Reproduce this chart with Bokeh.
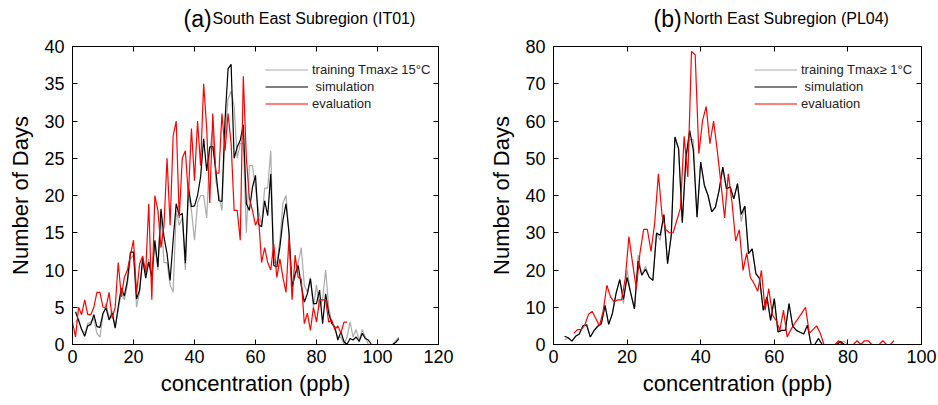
from bokeh.plotting import figure
from bokeh.models import Legend, LegendItem, LinearAxis, FixedTicker, Range1d
from bokeh.layouts import row, column
from bokeh.core.properties import value
from bokeh.embed import file_html
from bokeh.resources import INLINE

# ---------------- Panel (a): South East Subregion (IT01) ----------------
a_tag = "(a)"
a_title = "South East Subregion (IT01)"
a_xticks = [0, 20, 40, 60, 80, 100, 120]
a_yticks = [0, 5, 10, 15, 20, 25, 30, 35, 40]

a_sim_x = list(range(1, 108))
a_sim = [4.4, 3.2, 2.0, 1.1, 2.5, 2.7, 4.0, 2.4, 2.3, 4.2,
         4.9, 3.3, 4.2, 2.2, 5.1, 7.6, 6.5, 8.6, 12.4, 12.4,
         6.1, 7.3, 11.6, 8.9, 11.1, 9.1, 14, 10.4, 18.2, 14.4,
         12.2, 8.6, 14, 18.9, 17.3, 17.6, 10.9, 21.1, 18.5, 18.6,
         20, 22.5, 27.6, 23.3, 26.5, 26.6, 23.3, 19.3, 19.2, 30,
         37, 37.6, 25, 26.5, 27.4, 29.5, 18.9, 18, 21.1, 22.7,
         16.1, 15.8, 19.3, 17.3, 22.9, 10.6, 10.4, 13.1, 16.7, 18.9,
         14.9, 7.7, 9.5, 10.6, 7.9, 5.7, 6.8, 8.8, 5.5, 5.5,
         7.3, 2.8, 6.8, 4.2, 2.8, 2.4, 0.6, 1.7, 0.4, 0,
         0.8, 0.6, 1, 0.4, 1.5, 0.8, 0.6, 0, 0, 0,
         0, 0, 0, 0, 0, 0.3, 0.8]

a_train_x = list(range(1, 108))
a_train = [3.0, 3.5, 2.0, 1.5, 2.8, 3.0, 3.5, 1.5, 1.0, 4.0,
           5.5, 3.5, 4.5, 2.5, 4.5, 7.0, 6.0, 8.0, 11.5, 12.0,
           5.0, 7.0, 11.0, 9.5, 11.5, 8.5, 13.5, 10.0, 17.5, 11.0,
           11.0, 8.0, 7.0, 18.0, 16.0, 17.0, 10.0, 20.0, 18.0, 14.0,
           19.0, 20.0, 20.0, 17.0, 26.0, 29.0, 22.0, 20.0, 18.0, 28.0,
           33.0, 34.0, 32.0, 25.0, 27.0, 27.0, 15.0, 24.0, 24.0, 21.0,
           18.0, 16.0, 21.0, 21.0, 26.0, 11.0, 11.0, 14.0, 19.0, 20.0,
           15.0, 8.0, 9.0, 11.0, 13.0, 8.0, 7.0, 9.0, 5.0, 8.0,
           5.0, 6.0, 10.0, 5.0, 3.0, 2.0, 1.0, 1.0, 0.0, 1.0,
           3.0, 1.0, 2.0, 0.5, 2.0, 1.0, 0.0, 0.0, 0.0, 0.0,
           0.0, 0.0, 0.0, 0.0, 0.0, 0.5, 1.0]

a_eval_x = list(range(0, 91))
a_eval = [3, 1, 5, 4, 6, 4, 4, 5, 7, 7,
          5, 5, 7, 3.5, 5, 11, 6.4, 9, 10, 12,
          14, 6.8, 10.8, 11.9, 9.7, 18.9, 6, 20, 18, 13,
          16, 25, 16, 28, 30, 17, 25, 26, 20, 29,
          22, 30, 24, 35, 29, 19, 31, 23, 23, 31,
          26, 31, 27, 18, 18, 14, 36, 25, 19.6, 18,
          16, 17, 11, 13, 11, 10, 13.5, 9, 11.5, 9,
          7, 14.4, 6, 12, 9, 8.8, 2.8, 4.2, 1.9, 5,
          3, 6, 6, 6, 3, 3.3, 2, 2.5, 1.5, 3,
          3]

# ---------------- Panel (b): North East Subregion (PL04) ----------------
b_tag = "(b)"
b_title = "North East Subregion (PL04)"
b_xticks = [0, 20, 40, 60, 80, 100]
b_yticks = [0, 10, 20, 30, 40, 50, 60, 70, 80]

b_sim_x = list(range(3, 81))
b_sim = [2.2, 1.8, 0.9, 2.2, 2.8, 5.0, 5.3, 2.0,
         3.7, 4.9, 5.6, 10.5, 5.4, 8.3, 13.7, 17.4, 12.1, 18.0,
         13.7, 9.6, 22.4, 18.6, 20.2, 18.1, 17.2, 29.9, 29.3, 34.9,
         21.7, 29.3, 55.7, 52.5, 32.7, 50.3, 57.5, 52.1, 34.2, 49.0,
         42.7, 40.0, 35.6, 36.9, 41.4, 47.6, 41.8, 42.3, 39.1, 43.2,
         34.9, 37.2, 24.4, 25.7, 19.0, 17.7, 9.2, 12.8, 6.5, 12.3,
         3.4, 3.8, 3.8, 11.0, 4.9, 3.8, 3.3, 2.8, 5.2, 0,
         0, 1.6, 0, 0, 0, 0, 0, 0.8, 0, 0]

b_train_x = list(range(3, 81))
b_train = [1.2, 1.8, 0.9, 2.2, 2.8, 5.0, 5.3, 2.0,
           3.7, 4.9, 5.6, 10.5, 5.4, 8.3, 13.7, 17.4, 11.0, 20.0,
           13.7, 9.6, 24.0, 18.6, 21.0, 18.1, 17.2, 29.9, 28.0, 34.9,
           21.7, 29.3, 55.7, 52.5, 32.7, 50.3, 55.0, 55.0, 34.2, 49.0,
           43.0, 40.0, 35.6, 36.9, 41.4, 47.6, 41.8, 42.3, 39.1, 43.2,
           33.0, 37.2, 24.4, 25.7, 19.0, 17.7, 9.2, 12.8, 6.5, 12.3,
           3.4, 3.8, 3.8, 11.0, 4.9, 3.8, 3.3, 2.8, 5.2, 0,
           0, 1.6, 0, 0, 0, 0, 0, 0.8, 0.8, 0]

b_eval_x = [5.5 + i for i in range(88)]
b_eval = [3, 4, 4, 5.2, 8.1, 8.9, 7, 5, 9, 15.9,
          12.8, 11.4, 12, 12, 17.7, 29, 21.7, 15, 24.6, 30.9,
          30.9, 25, 32.6, 45.8, 34.7, 30.9, 30, 30, 33.3, 36.6,
          55.9, 45, 78.7, 77.8, 51.2, 60.1, 63.9, 53.9, 60, 52.1,
          43.2, 34, 45.8, 38.2, 27.8, 30.8, 19.9, 24.6, 18, 16.4,
          14.3, 19.9, 9.2, 15, 7.9, 6.5, 3.8, 9.2, 2, 4,
          5.6, 7, 8.5, 10, 3, 4, 5, 3, 0, 0,
          0, 0, 1, 0, 0, 0, 0, 1, 0, 1,
          1, 0, 0, 0, 1, 0, 0, 1]

FONT = "Liberation Sans"
GRAY = "#aaaaaa"
RED = "#ff0000"
TITLE_H = 34


def make_title(width, tag, title, tag_x, title_x):
    t = figure(width=width, height=TITLE_H, x_range=Range1d(0, width), y_range=Range1d(0, TITLE_H),
               output_backend="svg", toolbar_location=None,
               min_border=0, min_border_left=0, min_border_right=0,
               min_border_top=0, min_border_bottom=0)
    t.axis.visible = False
    t.grid.visible = False
    t.outline_line_color = None
    t.text(x=[tag_x], y=[TITLE_H - 18], text=[tag], text_font=value(FONT),
           text_font_size="23px", text_baseline="middle", text_color="black")
    t.text(x=[title_x], y=[TITLE_H - 18], text=[title], text_font=value(FONT),
           text_font_size="16px", text_baseline="middle", text_color="black")
    return t


def make_panel(width, bl, br, xmax, ymax, xticks, yticks,
               train_x, train, sim_x, sim, eval_x, ev, train_label, leg_x):
    p = figure(width=width, height=405 - TITLE_H, x_range=Range1d(0, xmax), y_range=Range1d(0, ymax),
               output_backend="svg", toolbar_location=None,
               min_border_left=bl, min_border_right=br, min_border_top=46 - TITLE_H,
               min_border_bottom=61,
               x_axis_label="concentration (ppb)", y_axis_label="Number of Days")
    p.grid.visible = False
    p.outline_line_color = "black"
    p.outline_line_width = 1
    p.background_fill_color = "white"
    p.border_fill_color = "white"

    for ax in (p.xaxis[0], p.yaxis[0]):
        ax.major_tick_in = 5
        ax.major_tick_out = 0
        ax.minor_tick_line_color = None
        ax.axis_line_color = "black"
        ax.major_label_text_font = FONT
        ax.major_label_text_font_size = "18px"
        ax.major_label_text_color = "black"
        ax.axis_label_text_font = FONT
        ax.axis_label_text_font_size = "22px"
        ax.axis_label_text_font_style = "normal"
        ax.axis_label_text_color = "black"
    p.xaxis[0].ticker = FixedTicker(ticks=xticks)
    p.yaxis[0].ticker = FixedTicker(ticks=yticks)
    p.yaxis[0].major_label_standoff = 8
    p.yaxis[0].axis_label_standoff = 8
    p.xaxis[0].major_label_standoff = 5
    p.xaxis[0].axis_label_standoff = 5

    top = LinearAxis(ticker=FixedTicker(ticks=xticks), major_tick_in=5, major_tick_out=0,
                     minor_tick_line_color=None, axis_line_color=None,
                     major_label_overrides={t: "" for t in xticks},
                     major_label_text_font_size="6px", major_label_standoff=0)
    right = LinearAxis(ticker=FixedTicker(ticks=yticks), major_tick_in=5, major_tick_out=0,
                       minor_tick_line_color=None, axis_line_color=None,
                       major_label_overrides={t: "" for t in yticks},
                       major_label_text_font_size="6px", major_label_standoff=0)
    p.add_layout(top, "above")
    p.add_layout(right, "right")

    r_tr = p.line(train_x, train, line_color=GRAY, line_width=1.2)
    r_sim = p.line(sim_x, sim, line_color="black", line_width=1.2)
    r_ev = p.line(eval_x, ev, line_color=RED, line_width=1.2)

    legend = Legend(items=[LegendItem(label=train_label, renderers=[r_tr]),
                           LegendItem(label=" simulation", renderers=[r_sim]),
                           LegendItem(label="evaluation", renderers=[r_ev])],
                    location=(leg_x, 232), border_line_color=None, background_fill_alpha=0,
                    padding=0, margin=0, spacing=0, glyph_width=43, glyph_height=17,
                    label_height=17, label_standoff=4, label_text_font=FONT,
                    label_text_font_size="13px", label_text_color="#222222")
    p.add_layout(legend, "center")
    return p


ta = make_title(469, a_tag, a_title, 183, 212)
tb = make_title(469, b_tag, b_title, 184, 214)
pa = make_panel(469, 72, 31, 120, 40, a_xticks, a_yticks,
                a_train_x, a_train, a_sim_x, a_sim, a_eval_x, a_eval,
                "training Tmax\u2265 15\u00b0C", 193)
pb = make_panel(469, 84, 17, 100, 80, b_xticks, b_yticks,
                b_train_x, b_train, b_sim_x, b_sim, b_eval_x, b_eval,
                "training Tmax\u2265 1\u00b0C", 201)

layout = column(row(ta, tb), row(pa, pb))
open("out.html", "w").write(file_html(layout, INLINE))
